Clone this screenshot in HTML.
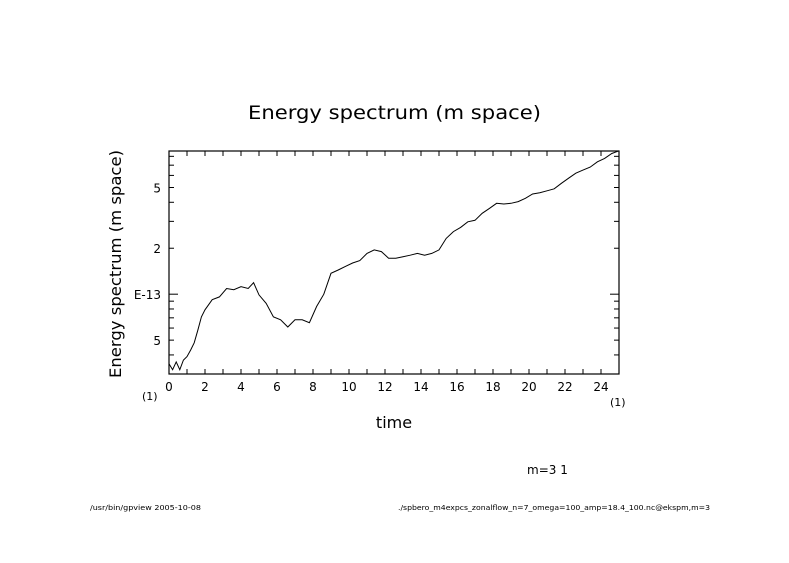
<!DOCTYPE html>
<html><head><meta charset="utf-8"><style>
body{margin:0;background:#fff;width:789px;height:558px;overflow:hidden}
svg text{font-family:"DejaVu Sans","Liberation Sans",sans-serif;fill:#000}
</style></head><body>
<svg width="789" height="558">
<text x="248" y="119" font-size="19" textLength="293" lengthAdjust="spacingAndGlyphs">Energy spectrum (m space)</text>
<text transform="translate(121,264) rotate(-90)" font-size="16" text-anchor="middle" textLength="228" lengthAdjust="spacingAndGlyphs">Energy spectrum (m space)</text>
<text x="394" y="428" font-size="16" text-anchor="middle">time</text>
<text x="142" y="400" font-size="11">(1)</text>
<text x="610" y="406" font-size="11">(1)</text>
<text x="527" y="474" font-size="12">m=3 1</text>
<text x="90" y="510" font-size="7" textLength="111" lengthAdjust="spacingAndGlyphs">/usr/bin/gpview  2005-10-08</text>
<text x="398" y="510" font-size="7" textLength="312" lengthAdjust="spacingAndGlyphs">./spbero_m4expcs_zonalflow_n=7_omega=100_amp=18.4_100.nc@ekspm,m=3</text>
<rect x="169" y="151" width="450" height="223" fill="none" stroke="#000" stroke-width="1.2"/>
<g id="axes"></g>
<path id="line" fill="none" stroke="#000" stroke-width="1"/>
</svg>
<script>
const times=[0,0.2,0.4,0.6,0.8,1.0,1.2,1.4,1.6,1.8,2.0,2.4,2.8,3.2,3.6,4.0,4.4,4.7,5.0,5.4,5.8,6.2,6.6,7.0,7.4,7.8,8.2,8.6,9.0,9.4,9.8,10.2,10.6,11.0,11.4,11.8,12.2,12.6,13.0,13.4,13.8,14.2,14.6,15.0,15.4,15.8,16.2,16.6,17.0,17.4,17.8,18.2,18.6,19.0,19.4,19.8,20.2,20.6,21.0,21.4,21.8,22.2,22.6,23.0,23.4,23.8,24.2,24.6,25.0];
const energy=[0.35,0.32,0.36,0.32,0.37,0.39,0.43,0.48,0.58,0.71,0.79,0.92,0.96,1.09,1.07,1.12,1.09,1.19,0.99,0.87,0.71,0.68,0.61,0.68,0.68,0.65,0.83,1.0,1.37,1.44,1.52,1.6,1.66,1.85,1.95,1.9,1.72,1.72,1.76,1.8,1.85,1.8,1.85,1.95,2.32,2.57,2.74,2.98,3.05,3.39,3.65,3.94,3.9,3.94,4.04,4.25,4.53,4.62,4.76,4.9,5.33,5.75,6.2,6.5,6.8,7.37,7.75,8.35,8.7];
const xTicks=[0,2,4,6,8,10,12,14,16,18,20,22,24];
const yTicks=[0.5,1,2,5];
const yTickLabels=["5","E-13","2","5"];
const X0=169,X1=619,Y0=374,Y1=151,xmin=0,xmax=25,ymin=0.30,ymax=8.67;
const sx=t=>X0+(t-xmin)/(xmax-xmin)*(X1-X0);
const sy=v=>Y0-(Math.log10(v)-Math.log10(ymin))/(Math.log10(ymax)-Math.log10(ymin))*(Y0-Y1);
const NS="http://www.w3.org/2000/svg",g=document.getElementById('axes');
function ln(x1,y1,x2,y2){const l=document.createElementNS(NS,'line');l.setAttribute('x1',x1);l.setAttribute('y1',y1);l.setAttribute('x2',x2);l.setAttribute('y2',y2);l.setAttribute('stroke','#000');


g.appendChild(l);}
function tx(x,y,s,a){const t=document.createElementNS(NS,'text');t.setAttribute('x',x);t.setAttribute('y',y);t.setAttribute('font-size','12');t.setAttribute('text-anchor',a);t.textContent=s;


g.appendChild(t);}
for(let t=1;t<25;t++){const x=sx(t);ln(x,Y0,x,Y0-5);ln(x,Y1,x,Y1+5);}
xTicks.forEach(t=>tx(sx(t),391,String(t),'middle'));
[0.3,0.4,0.5,0.6,0.7,0.8,0.9,1,2,3,4,5,6,7,8].forEach(v=>{const y=sy(v);const L=(v==1)?9:5;ln(X0,y,X0+L,y);ln(X1,y,X1-L,y);});
yTicks.forEach((v,i)=>tx(X0-8,sy(v)+5,yTickLabels[i],'end'));
let d='';times.forEach((t,i)=>{d+=(i?'L':'M')+sx(t).toFixed(1)+','+sy(energy[i]).toFixed(1);});
document.getElementById('line').setAttribute('d',d);
</script>
</body></html>
